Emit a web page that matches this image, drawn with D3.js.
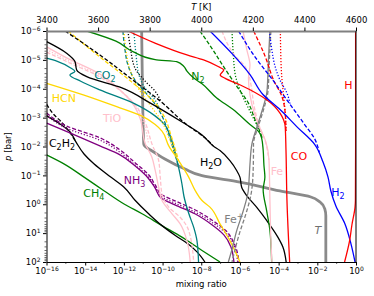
<!DOCTYPE html>
<html>
<head>
<meta charset="utf-8">
<script src="https://cdn.jsdelivr.net/npm/d3@7"></script>
<style>
  body { margin: 0; background: #fff; }
  text { font-family: "DejaVu Sans", sans-serif; }
</style>
</head>
<body>
<div id="chart"></div>
<script>
// every curve point is [log10 mixing ratio, log10 p/bar]

var hSolid = [[-0.02,-6],[-0.02,-2],[-0.03,-0.15],[-0.05,0.1],[-0.21,0.71],[-0.33,1.26],[-0.59,2]];

var h2Solid = [[-7.55,-6],[-6.36,-5.18],[-5.48,-4.49],[-4.81,-3.80],[-3.93,-3.28],[-3.05,-2.68],[-2.12,-2.06],[-1.71,-1.47],[-1.45,-0.95],[-1.30,-0.46],[-1.04,0.06],[-0.57,0.68],[-0.26,1.37],[-0.05,2]];
var h2Dashed = [[-6.07,-6],[-5.29,-5.17],[-4.18,-4.19],[-3.57,-3.61],[-2.71,-2.81],[-2.11,-2.23],[-1.9,-1.8]];
var h2Dotted = [[-4.47,-6],[-4.35,-5.34],[-4.19,-4.79],[-3.93,-4.30],[-3.57,-3.85],[-3.4,-3.45]];

var coSolid = [[-11.79,-6],[-10.39,-5.58],[-8.74,-5.17],[-7.88,-5.0],[-7.10,-4.76],[-6.84,-4.65],[-7.02,-4.48],[-6.76,-4.36],[-5.98,-4.13],[-4.60,-3.61],[-3.92,-3.15],[-3.74,-2.92],[-3.66,-2.69],[-3.62,-1.88],[-3.57,-0.15],[-3.43,2]];
var coDashed = [[-5.29,-6],[-4.69,-5.11],[-4.26,-4.30],[-3.83,-3.73],[-3.66,-3.15],[-3.62,-2.5]];
var coDotted = [[-3.91,-6],[-3.86,-4.65],[-3.75,-3.79],[-3.65,-3.09],[-3.62,-2.5]];

var n2Solid = [[-13.92,-6],[-12.41,-5.65],[-11.51,-5.28],[-10.38,-5.01],[-9.27,-4.94],[-8.91,-4.78],[-8.74,-4.61],[-8.39,-4.37],[-7.96,-4.17],[-7.20,-3.68],[-6.35,-3.28],[-5.48,-2.76],[-5.05,-2.53],[-4.88,-2.30],[-4.80,-1.88],[-4.76,-1.36],[-4.71,-0.94],[-4.80,-0.50],[-4.62,0.22],[-4.45,0.91],[-4.36,2]];
var n2Dashed = [[-8.07,-6],[-7.46,-5.41],[-6.86,-4.78],[-6.17,-4.09],[-5.57,-3.51],[-5.21,-2.92],[-4.99,-2.57],[-4.86,-2.30]];
var n2Dotted = [[-6.41,-6],[-6.34,-5.17],[-6.24,-4.48],[-6.0,-3.96],[-5.65,-3.45],[-5.31,-2.99],[-5.05,-2.64],[-4.86,-2.30]];

var feSolid = [[-5.84,-6],[-5.64,-5.34],[-5.48,-4.82],[-5.56,-4.37],[-5.48,-3.79],[-5.28,-3.20],[-4.97,-2.64],[-4.66,-2.16],[-4.50,-1.54],[-4.45,-0.15],[-4.40,1.23],[-4.35,2]];
var feDashed = [[-6.93,-6],[-6.52,-5.41],[-6.16,-5.07],[-5.84,-4.86],[-5.59,-4.58],[-5.43,-4.13],[-5.28,-3.44],[-5.02,-2.75],[-4.71,-2.23],[-4.5,-1.54]];

var fepSolid = [[-4.45,-6],[-4.53,-4.96],[-4.60,-3.92],[-4.86,-3.23],[-5.14,-2.64],[-5.38,-2.09],[-5.48,-1.40],[-5.52,-0.95],[-5.57,-0.46],[-5.83,0.23],[-6.17,0.92],[-6.43,1.61],[-6.60,2]];
var fepDashed = [[-4.40,-6],[-4.48,-4.96],[-4.55,-3.92],[-4.80,-3.23],[-5.08,-2.64],[-5.30,-2.09],[-5.30,-1.88],[-5.33,-0.95],[-5.43,-0.33],[-5.69,0.33],[-6.03,1.02],[-6.41,2]];

var h2oSolid = [[-15.99,-5.63],[-14.96,-5.23],[-14.53,-4.94],[-14.44,-4.65],[-13.92,-4.42],[-12.10,-4.03],[-10.65,-3.51],[-9.10,-2.89],[-7.96,-2.40],[-7.38,-2.02],[-7.03,-1.86],[-6.52,-1.51],[-6.17,-1.17],[-6.0,-0.94],[-5.91,-0.59],[-5.65,-0.30],[-5.14,0.10],[-4.62,0.56],[-4.04,1.14],[-3.78,1.48],[-3.61,2]];
var h2oDashed = [[-15.04,-6],[-13.24,-5.17],[-11.53,-4.30],[-10.13,-3.58],[-8.74,-2.75],[-7.81,-2.30],[-7.38,-2.02]];
var h2oDotted = [[-11.79,-6],[-11.66,-5.41],[-11.43,-4.72],[-10.91,-4.27],[-10.39,-3.92],[-10.1,-3.58]];

var c2h2Solid = [[-15.99,-3.06],[-15.30,-2.78],[-14.79,-2.51],[-14.48,-2.16],[-14.06,-1.74],[-13.55,-1.40],[-12.68,-0.94],[-11.99,-0.59],[-11.41,-0.13],[-10.72,0.33],[-10.03,0.74],[-9.34,1.08],[-8.69,1.37],[-8.22,1.65],[-7.81,2]];
var c2h2Dashed = [[-15.99,-3.46],[-15.61,-3.10],[-15.18,-2.82],[-14.84,-2.53],[-14.48,-2.16]];

var nh3Solid = [[-15.99,-2.81],[-14.79,-2.47],[-13.24,-2.02],[-12.20,-1.71],[-11.43,-1.33],[-10.75,-0.91],[-10.39,-0.57],[-10.08,-0.22],[-9.36,0.02],[-8.33,0.33],[-7.45,0.71],[-6.83,1.06],[-6.47,1.47],[-6.31,2]];
var nh3Dashed = [[-15.99,-3.16],[-14.96,-2.71],[-13.24,-2.30],[-12.20,-1.88],[-11.41,-1.43],[-10.72,-1.02],[-10.38,-0.67],[-10.03,-0.33],[-9.36,-0.12],[-8.33,0.19],[-7.40,0.57],[-6.72,0.92],[-6.31,1.34],[-6.05,2]];
var nh3Dotted = [[-15.99,-3.08],[-14.96,-2.63],[-13.24,-2.22],[-12.20,-1.80],[-11.41,-1.35],[-10.72,-0.94],[-10.38,-0.59],[-10.03,-0.25],[-9.36,-0.04],[-8.33,0.27],[-7.40,0.65],[-6.72,1.00],[-6.31,1.42],[-6.12,2]];

var ch4Solid = [[-16,-1.71],[-15.10,-1.40],[-14.06,-0.94],[-13.03,-0.47],[-11.99,-0.01],[-11.06,0.33],[-10.03,0.74],[-9.00,1.14],[-7.96,1.60],[-7.03,2]];

var co2Solid = [[-15.99,-5.06],[-15.44,-4.95],[-14.75,-4.72],[-14.53,-4.60],[-14.79,-4.48],[-14.23,-4.26],[-13.24,-3.96],[-11.51,-3.50],[-10.39,-3.06],[-9.88,-2.75],[-9.62,-2.40],[-9.41,-1.95],[-9.20,-1.36],[-9.00,-0.71],[-8.89,-0.26],[-8.64,0.33],[-8.38,0.82],[-8.22,1.27],[-8.14,2]];
var co2Dashed = [[-12.05,-6],[-11.94,-5.34],[-11.79,-4.82],[-11.43,-4.30],[-10.91,-3.89],[-10.39,-3.47],[-9.98,-2.99],[-9.67,-2.40],[-9.46,-1.95],[-9.20,-1.36]];
var co2Dotted = [[-11.48,-6],[-11.37,-5.17],[-11.22,-4.48],[-10.91,-4.03],[-10.39,-3.61],[-10.08,-3.20]];

var hcnSolid = [[-15.99,-4.19],[-14.10,-3.79],[-12.37,-3.38],[-11.06,-3.05],[-10.38,-2.76],[-10.03,-2.53],[-9.68,-2.02],[-9.17,-1.51],[-8.65,-0.94],[-8.31,-0.47],[-7.96,-0.13],[-7.55,0.10],[-7.03,0.68],[-6.52,1.26],[-6.0,2]];
var hcnDashed = [[-14.89,-6],[-13.24,-5.10],[-11.53,-4.20],[-10.39,-3.51],[-9.88,-2.99],[-9.57,-2.40],[-9.36,-1.95],[-9.17,-1.51]];
var hcnDotted = [[-11.99,-6],[-11.89,-5.34],[-11.68,-4.65],[-11.27,-4.03],[-10.65,-3.44],[-10.03,-2.85],[-9.62,-2.23],[-9.31,-1.71]];

var tioSolid = [[-15.99,-5.45],[-14.96,-5.07],[-13.24,-4.51],[-12.20,-3.96],[-11.53,-3.47],[-11.17,-2.99],[-10.89,-2.09],[-10.55,-1.63],[-10.38,-1.17],[-10.20,-0.59],[-10.03,-0.13],[-9.51,0.33],[-9.09,0.68],[-8.74,1.26],[-8.57,2]];
var tioDashed = [[-15.99,-5.27],[-14.79,-4.89],[-13.24,-4.41],[-12.10,-3.89],[-11.37,-3.40],[-10.91,-2.85],[-10.55,-2.09],[-10.20,-1.51],[-10.12,-0.94],[-10.03,-0.36],[-9.68,0.10],[-9.09,0.45],[-8.65,0.91],[-8.39,2]];
var tioDotted = [[-15.99,-5.36],[-14.90,-4.98],[-13.24,-4.46],[-12.15,-3.92],[-11.45,-3.44],[-11.04,-2.92],[-10.72,-2.09]];

// temperature profile (top axis)
var tempK = [3769, 3772, 3777, 3790, 3808, 3859, 3937, 4003, 4150, 4305, 4425, 4460, 4479, 4483, 4483];
var tempLogP = [-6, -4, -2.09, -1.95, -1.855, -1.567, -1.22, -0.99, -0.77, -0.46, -0.25, -0.08, 0.16, 0.4, 2];

var xTicks = [-16, -14, -12, -10, -8, -6, -4, -2, 0];
var yTicks = [-6, -5, -4, -3, -2, -1, 0, 1, 2];
var tTicks = [3400, 3600, 3800, 4000, 4200, 4400, 4600];

// set the dimensions and margins
var margin = {top: 31, left: 46.5},
    width = 309.5,
    height = 231;

var svg = d3.select("#chart")
  .append("svg")
    .attr("width", 374)
    .attr("height", 296);

var g = svg.append("g")
  .attr("transform", "translate(" + margin.left + "," + margin.top + ")");

var x = d3.scaleLog().domain([1e-16, 1]).range([0, width]);
var y = d3.scaleLog().domain([1e-6, 1e2]).range([0, height]);
var tx = d3.scaleLinear().domain([3400, 4600]).range([0, width]);

g.append("clipPath").attr("id", "clip")
  .append("rect").attr("width", width).attr("height", height);

var plot = g.append("g").attr("clip-path", "url(#clip)");

var line = d3.line()
  .x(function(d) { return x(Math.pow(10, d[0])); })
  .y(function(d) { return y(Math.pow(10, d[1])); })
  .curve(d3.curveMonotoneY);

// temperature first, so it sits behind
var tempLine = d3.line()
  .x(function(d) { return tx(d[0]); })
  .y(function(d) { return y(Math.pow(10, d[1])); })
  .curve(d3.curveMonotoneY);
plot.append("path")
  .attr("d", tempLine(tempK.map(function(t, i) { return [t, tempLogP[i]]; })))
  .attr("stroke", "#8a8a8a")
  .attr("stroke-width", 2.8)
  .attr("fill", "none");

var DASH = "4,2", DOT = "1.2,1.8";
var red = "#ff0000", blue = "#0000ff", green = "#008000", gold = "#ffd700",
    teal = "#008080", pink = "#ffc0cb", purple = "#800080", grey = "#808080";

var curves = [
  {d: ch4Solid, c: green},
  {d: c2h2Dashed, c: "black", s: DASH},
  {d: c2h2Solid, c: "black"},
  {d: nh3Solid, c: purple},
  {d: nh3Dashed, c: purple, s: DASH},
  {d: nh3Dotted, c: purple, s: DOT},
  {d: tioDotted, c: pink, s: DOT},
  {d: tioDashed, c: pink, s: DASH},
  {d: tioSolid, c: pink},
  {d: co2Dotted, c: teal, s: DOT},
  {d: co2Dashed, c: teal, s: DASH},
  {d: co2Solid, c: teal},
  {d: hcnDotted, c: gold, s: DOT},
  {d: hcnDashed, c: gold, s: DASH},
  {d: hcnSolid, c: gold},
  {d: h2oDotted, c: "black", s: DOT},
  {d: h2oDashed, c: "black", s: DASH},
  {d: h2oSolid, c: "black"},
  {d: n2Dotted, c: green, s: DOT},
  {d: n2Dashed, c: green, s: DASH},
  {d: n2Solid, c: green},
  {d: feDashed, c: pink, s: DASH},
  {d: feSolid, c: pink},
  {d: fepDashed, c: grey, s: DASH},
  {d: fepSolid, c: grey},
  {d: coDotted, c: red, s: DOT},
  {d: coDashed, c: red, s: DASH},
  {d: coSolid, c: red},
  {d: h2Dotted, c: blue, s: DOT},
  {d: h2Dashed, c: blue, s: DASH},
  {d: h2Solid, c: blue},
  {d: hSolid, c: red}
];

plot.selectAll("myLines")
  .data(curves)
  .enter()
  .append("path")
    .attr("d", function(d) { return line(d.d); })
    .attr("stroke", function(d) { return d.c; })
    .attr("stroke-dasharray", function(d) { return d.s || null; })
    .attr("stroke-width", 1.3)
    .attr("fill", "none");

// species labels, placed in data coordinates
function addLabel(parts, color, lx, lp, italic) {
  var t = g.append("text")
    .attr("x", x(Math.pow(10, lx)))
    .attr("y", y(Math.pow(10, lp)) + 4)
    .attr("text-anchor", "middle")
    .attr("fill", color)
    .style("font-size", "11px")
    .style("font-style", italic ? "italic" : null);
  var shift = 0;
  parts.forEach(function(p) {
    var target = p[1] === 1 ? 3 : (p[1] === 2 ? -4 : 0);
    var ts = t.append("tspan").text(p[0]);
    if (target - shift !== 0) ts.attr("dy", target - shift);
    if (p[1]) ts.style("font-size", "8px");
    shift = target;
  });
}

addLabel([["H", 0]], red, -0.39, -4.13);
addLabel([["CO", 0]], red, -2.95, -1.67);
addLabel([["H", 0], ["2", 1]], blue, -0.94, -0.43);
addLabel([["T", 0]], "#707070", -1.97, 0.89, true);
addLabel([["Fe", 0]], pink, -4.09, -1.16);
addLabel([["Fe", 0], ["+", 2]], grey, -6.31, 0.51);
addLabel([["H", 0], ["2", 1], ["O", 0]], "black", -7.5, -1.47);
addLabel([["NH", 0], ["3", 1]], purple, -11.45, -0.84);
addLabel([["CH", 0], ["4", 1]], green, -13.55, -0.39);
addLabel([["C", 0], ["2", 1], ["H", 0], ["2", 1]], "black", -15.2, -2.12);
addLabel([["TiO", 0]], pink, -12.61, -2.99);
addLabel([["HCN", 0]], gold, -15.1, -3.68);
addLabel([["CO", 0], ["2", 1]], teal, -12.98, -4.48);
addLabel([["N", 0], ["2", 1]], green, -8.17, -4.44);

// power-of-ten tick labels
function powLabels(sel) {
  sel.each(function(d) {
    var e = Math.round(Math.log10(d));
    var t = d3.select(this);
    t.text(null);
    t.append("tspan").text("10");
    t.append("tspan").attr("dy", "-0.55em").style("font-size", "6px")
      .text(e < 0 ? "\u2212" + (-e) : e);
  });
}

// bottom axis
var bottomAxis = g.append("g")
  .attr("transform", "translate(0," + height + ")")
  .call(d3.axisBottom(x)
    .tickValues(xTicks.map(function(e) { return Math.pow(10, e); }))
    .tickSize(3.5).tickSizeOuter(0).tickPadding(2.5));
bottomAxis.selectAll(".tick text").style("font-size", "8.5px").call(powLabels);

// left axis
var leftAxis = g.append("g")
  .call(d3.axisLeft(y)
    .tickValues(yTicks.map(function(e) { return Math.pow(10, e); }))
    .tickSize(3.5).tickSizeOuter(0).tickPadding(2.5));
leftAxis.selectAll(".tick text").style("font-size", "8.5px").call(powLabels);

// minor ticks
var yMinor = [];
yTicks.slice(0, -1).forEach(function(e) {
  [2, 3, 4, 5, 6, 7, 8, 9].forEach(function(m) { yMinor.push(m * Math.pow(10, e)); });
});
g.selectAll("yMinor").data(yMinor).enter().append("line")
  .attr("x1", 0).attr("x2", -2)
  .attr("y1", function(d) { return y(d); }).attr("y2", function(d) { return y(d); })
  .attr("stroke", "black").attr("stroke-width", 0.6);
var xMinor = [-15, -13, -11, -9, -7, -5, -3, -1];
g.selectAll("xMinor").data(xMinor).enter().append("line")
  .attr("y1", height).attr("y2", height + 2)
  .attr("x1", function(d) { return x(Math.pow(10, d)); }).attr("x2", function(d) { return x(Math.pow(10, d)); })
  .attr("stroke", "black").attr("stroke-width", 0.6);

// top temperature axis
var tempAxis = g.append("g")
  .call(d3.axisTop(tx).tickValues(tTicks).tickSize(3.5).tickSizeOuter(0).tickPadding(5)
    .tickFormat(d3.format("d")));
tempAxis.selectAll(".tick text").style("font-size", "8.5px");
tempAxis.select(".domain").attr("stroke", "#808080").attr("stroke-width", 2);

// right spine
g.append("line")
  .attr("x1", width).attr("x2", width).attr("y1", 0).attr("y2", height)
  .attr("stroke", "black").attr("stroke-width", 1);

// axis titles
svg.append("text")
  .attr("x", margin.left + width / 2).attr("y", 287)
  .attr("text-anchor", "middle")
  .style("font-size", "8.5px")
  .text("mixing ratio");

var yl = svg.append("text")
  .attr("transform", "translate(11," + (margin.top + height / 2) + ") rotate(-90)")
  .attr("text-anchor", "middle")
  .style("font-size", "8.5px");
yl.append("tspan").style("font-style", "italic").text("p");
yl.append("tspan").text(" [bar]");

var tl = svg.append("text")
  .attr("x", margin.left + width / 2).attr("y", 10)
  .attr("text-anchor", "middle")
  .style("font-size", "8.5px");
tl.append("tspan").style("font-style", "italic").text("T");
tl.append("tspan").text(" [K]");
</script>
</body>
</html>
